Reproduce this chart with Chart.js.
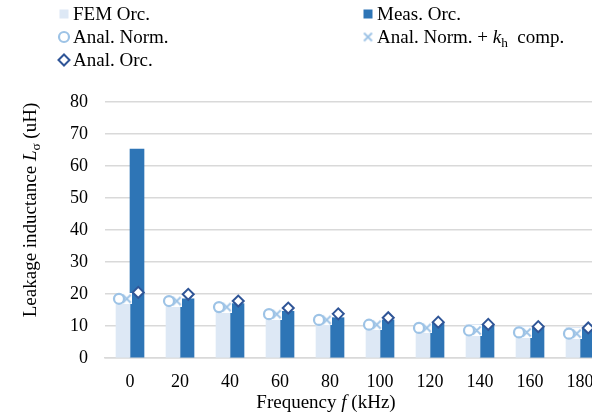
<!DOCTYPE html>
<html>
<head>
<meta charset="utf-8">
<script src="https://cdn.jsdelivr.net/npm/chart.js@4.4.1/dist/chart.umd.min.js"></script>
<style>
  html, body { margin: 0; padding: 0; background: #fff; overflow: hidden; }
  #wrap { width: 592px; height: 417px; overflow: hidden; }
</style>
</head>
<body>
<div id="wrap"><canvas id="leakChart" width="620" height="417"></canvas></div>
<script>
// frequency points (kHz) and leakage inductance (uH)
const freqs = [0, 20, 40, 60, 80, 100, 120, 140, 160, 180];
const femOrc = [18.6, 18.0, 16.2, 14.4, 12.6, 11.6, 11.0, 10.5, 10.0, 9.6];
const measOrc = [65.3, 18.5, 17.0, 14.6, 12.6, 11.9, 10.9, 10.3, 9.4, 9.0];
const analNorm = [18.5, 17.8, 15.9, 13.7, 11.9, 10.4, 9.4, 8.6, 8.0, 7.6];
const analNormKh = [18.5, 17.8, 15.9, 13.7, 11.9, 10.4, 9.4, 8.6, 8.0, 7.6];
const analOrc = [20.5, 19.9, 17.8, 15.6, 13.8, 12.6, 11.2, 10.5, 9.8, 9.4];
const yTicks = [0, 10, 20, 30, 40, 50, 60, 70, 80];

const SERIF = '"Liberation Serif", "Times New Roman", serif';
const TXT = '#000';

// sideways placement of each series within a frequency slot (in kHz units)
const shift = { fem: -2.8, meas: 2.8, norm: -4.4, kh: -1.3, orc: 3.3 };
const pts = (arr, dx) => freqs.map((f, i) => ({ x: f + dx, y: arr[i] }));

// x marker with a white backing square
function crossMarker(size, color) {
  const c = document.createElement('canvas');
  c.width = c.height = size;
  const g = c.getContext('2d');
  g.fillStyle = '#fff';
  g.fillRect(0, 0, size, size);
  g.strokeStyle = color;
  g.lineWidth = 1.8;
  g.beginPath();
  g.moveTo(1.5, 1.5); g.lineTo(size - 1.5, size - 1.5);
  g.moveTo(size - 1.5, 1.5); g.lineTo(1.5, size - 1.5);
  g.stroke();
  return c;
}
const xMark = crossMarker(11, '#9dc3e6');

// "*k*" -> italic, "_{h}" -> subscript
function parseRuns(str) {
  return str.split(/(\*[^*]+\*|_\{[^}]+\})/).filter(s => s).map(s => {
    if (s[0] === '*') return { t: s.slice(1, -1), it: true };
    if (s[0] === '_') return { t: s.slice(2, -1), sub: true };
    return { t: s };
  });
}
function drawRich(ctx, str, x, y, size, align) {
  const runs = parseRuns(str);
  let total = 0;
  runs.forEach(r => {
    r.font = (r.it ? 'italic ' : '') + (r.sub ? size * 0.7 : size) + 'px ' + SERIF;
    ctx.font = r.font;
    r.w = ctx.measureText(r.t).width;
    total += r.w;
  });
  let cx = align === 'center' ? x - total / 2 : x;
  ctx.textAlign = 'left';
  ctx.textBaseline = 'alphabetic';
  runs.forEach(r => {
    ctx.font = r.font;
    ctx.fillText(r.t, cx, y + (r.sub ? size * 0.22 : 0));
    cx += r.w;
  });
}

const legendSlots = [
  { ds: 0, x: 64, y: 20 }, { ds: 1, x: 368, y: 20 },
  { ds: 2, x: 64, y: 43 }, { ds: 3, x: 368, y: 43 },
  { ds: 4, x: 64, y: 66 }
];

const titlesPlugin = {
  id: 'titles',
  afterDraw(chart) {
    const ctx = chart.ctx;
    ctx.save();
    // legend
    legendSlots.forEach(s => {
      const ds = chart.data.datasets[s.ds];
      const cy = s.y - 6;
      if (ds.type === 'bar') {
        ctx.fillStyle = ds.backgroundColor;
        ctx.fillRect(s.x - 4.5, cy - 4.5, 9, 9);
      } else {
        ctx.fillStyle = ds.pointBackgroundColor;
        ctx.strokeStyle = ds.pointBorderColor;
        ctx.lineWidth = ds.pointBorderWidth;
        Chart.helpers.drawPoint(ctx, {
          pointStyle: ds.pointStyle, radius: ds.pointRadius,
          rotation: 0, borderWidth: ds.pointBorderWidth
        }, s.x, cy);
      }
      ctx.fillStyle = TXT;
      drawRich(ctx, ds.label, s.x + 9, s.y, 19, 'left');
    });
    // axis titles
    ctx.fillStyle = TXT;
    drawRich(ctx, 'Frequency *f* (kHz)', 326, 407.5, 19, 'center');
    ctx.translate(30, 210);
    ctx.rotate(-Math.PI / 2);
    drawRich(ctx, 'Leakage inductance *L*_{σ} (uH)', 0, 6, 19, 'center');
    ctx.restore();
  }
};

new Chart(document.getElementById('leakChart'), {
  type: 'bar',
  data: {
    datasets: [
      { type: 'bar', label: 'FEM Orc.', data: pts(femOrc, shift.fem), backgroundColor: '#dde8f5', order: 3 },
      { type: 'bar', label: 'Meas. Orc.', data: pts(measOrc, shift.meas), backgroundColor: '#2e75b6', order: 3 },
      {
        type: 'line', label: 'Anal. Norm.', data: pts(analNorm, shift.norm),
        showLine: false, pointStyle: 'circle', pointRadius: 5, pointBorderWidth: 2.2,
        pointBorderColor: '#9dc3e6', pointBackgroundColor: '#fff', order: 1
      },
      {
        type: 'line', label: 'Anal. Norm. + *k*_{h}  comp.', data: pts(analNormKh, shift.kh),
        showLine: false, pointStyle: xMark, pointRadius: 5, pointBorderWidth: 0,
        pointBorderColor: '#9dc3e6', pointBackgroundColor: '#fff', order: 2
      },
      {
        type: 'line', label: 'Anal. Orc.', data: pts(analOrc, shift.orc),
        showLine: false, pointStyle: 'rectRot', pointRadius: 5.5, pointBorderWidth: 2,
        pointBorderColor: '#2f5597', pointBackgroundColor: '#fff', order: 0
      }
    ]
  },
  options: {
    responsive: false,
    animation: false,
    events: [],
    layout: { padding: { top: 102, right: 15, left: 0, bottom: 0 } },
    plugins: { legend: { display: false }, tooltip: { enabled: false }, title: { display: false } },
    datasets: { bar: { grouped: false, barThickness: 14 } },
    scales: {
      x: {
        type: 'linear',
        offset: false,
        min: freqs[0] - 10, max: freqs[freqs.length - 1] + 10,
        afterBuildTicks(scale) { scale.ticks = freqs.map(v => ({ value: v })); },
        grid: { display: false, drawTicks: false, offset: false },
        border: { display: true, color: '#d9d9d9', width: 1.5 },
        ticks: { color: TXT, font: { family: SERIF, size: 18 }, padding: 13, maxRotation: 0 },
        afterFit(scale) { scale.height = 59; scale.paddingLeft = 0; scale.paddingRight = 0; }
      },
      y: {
        min: 0, max: 80,
        afterBuildTicks(scale) { scale.ticks = yTicks.map(v => ({ value: v })); },
        grid: { color: '#d9d9d9', lineWidth: 1.5, drawTicks: false },
        border: { display: false },
        ticks: { color: TXT, font: { family: SERIF, size: 18 }, padding: 17 },
        afterFit(scale) { scale.width = 105; }
      }
    }
  },
  plugins: [titlesPlugin]
});
</script>
</body>
</html>
